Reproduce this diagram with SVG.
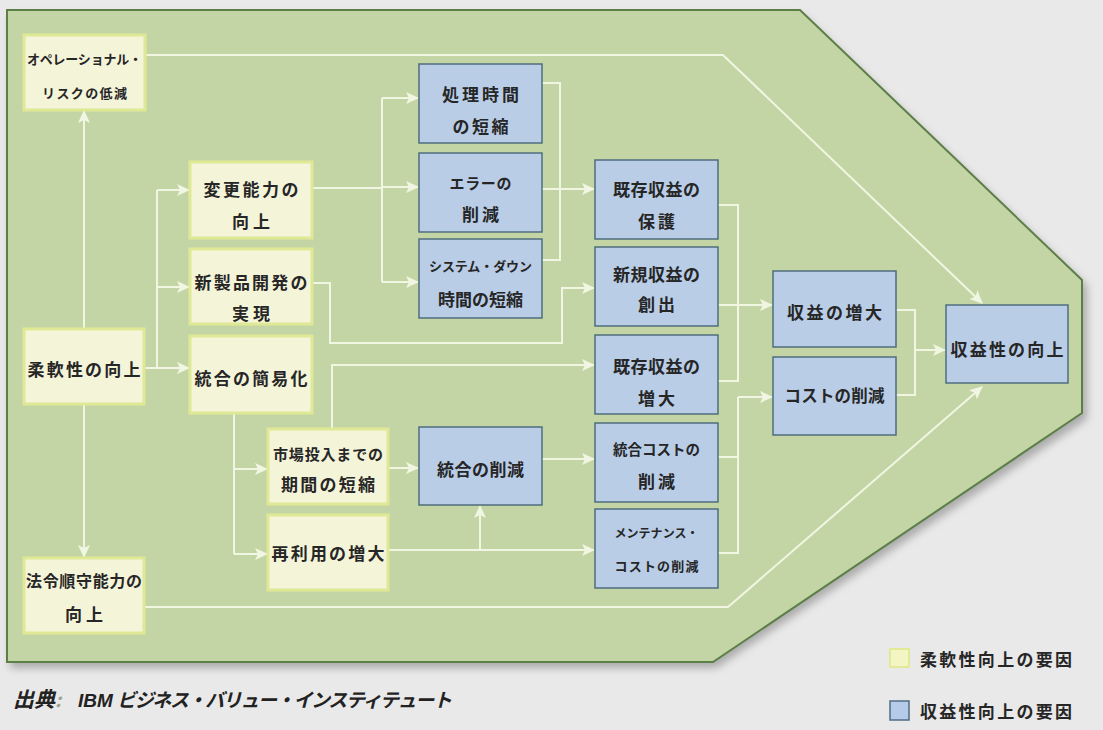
<svg xmlns="http://www.w3.org/2000/svg" width="1103" height="730" viewBox="0 0 1103 730">
<style>
.t{font-family:"Noto Sans CJK JP","Noto Sans CJK SC",sans-serif;font-size:17px;fill:#262626;text-anchor:middle;dominant-baseline:central;font-weight:700}
.s{font-size:13px}
.m{font-size:15px}
.y{fill:#f4f4d9;stroke:#dfe995;stroke-width:3}
.b{fill:#b9cde6;stroke:#4f6d7d;stroke-width:1.5}
.c{fill:none;stroke:#f1f6e2;stroke-width:2}
.ca{fill:none;stroke:#f1f6e2;stroke-width:2;marker-end:url(#ah)}
</style>
<defs>
<marker id="ah" markerUnits="userSpaceOnUse" markerWidth="14" markerHeight="12" refX="12" refY="6" orient="auto">
<path d="M0,0 L13,6 L0,12 L3,6 z" fill="#f1f6e2"/>
</marker>
<filter id="sh" x="-5%" y="-5%" width="110%" height="115%">
<feGaussianBlur stdDeviation="4"/>
</filter>
</defs>
<rect width="1103" height="730" fill="#e9e9e9"/>
<polygon points="10,16 803,16 1087,286 1087,419 716,668 10,668" fill="#777" opacity="0.55" filter="url(#sh)"/>
<polygon points="7,10 800,10 1082,280 1082,413 713,662 7,662" fill="#c4d5a5" stroke="#5c7f48" stroke-width="2"/>

<g id="connectors">
<path class="ca" d="M84,329 V111"/>
<path class="ca" d="M84,404 V557"/>
<path class="ca" d="M144,368 H189"/>
<path class="c" d="M157,368 V190"/>
<path class="ca" d="M157,190 H189"/>
<path class="ca" d="M157,287 H189"/>
<path class="c" d="M312,188 H382"/>
<path class="c" d="M382,98 V282"/>
<path class="ca" d="M382,98 H418"/>
<path class="ca" d="M382,187 H418"/>
<path class="ca" d="M382,282 H418"/>
<path class="c" d="M542,83 H560 V260 H542"/>
<path class="ca" d="M542,189 H594"/>
<path class="ca" d="M312,283 H330 V343 H562 V288 H594"/>
<path class="ca" d="M332,429 V365 H594"/>
<path class="c" d="M234,413 V554"/>
<path class="ca" d="M234,469 H267"/>
<path class="ca" d="M234,554 H267"/>
<path class="ca" d="M388,468 H418"/>
<path class="ca" d="M388,550 H594"/>
<path class="ca" d="M480,550 V506"/>
<path class="ca" d="M542,459 H594"/>
<path class="c" d="M718,205 H738 V381 H718"/>
<path class="ca" d="M718,305 H772"/>
<path class="c" d="M718,457 H738 M718,553 H738 V397"/>
<path class="ca" d="M738,397 H772"/>
<path class="c" d="M896,310 H915 V395 H896"/>
<path class="ca" d="M915,350 H945"/>
<path class="ca" d="M145,55 H723 L982,303"/>
<path class="ca" d="M144,607 H728 L982,387"/>
</g>

<g id="n-ops"><rect class="y" x="24" y="35" width="121" height="75"/>
<text class="t s" x="84.5" y="58" textLength="115">オペレーショナル・</text>
<text class="t s" x="84.5" y="92" textLength="85">リスクの低減</text></g>
<g id="n-henkou"><rect class="y" x="190" y="162" width="122" height="76"/>
<text class="t" x="251" y="188" textLength="95">変更能力の</text>
<text class="t" x="251" y="220" textLength="38">向上</text></g>
<g id="n-shinseihin"><rect class="y" x="190" y="249" width="122" height="75"/>
<text class="t" x="251" y="281" textLength="113">新製品開発の</text>
<text class="t" x="251" y="312" textLength="38">実現</text></g>
<g id="n-kanika"><rect class="y" x="190" y="336" width="122" height="77"/>
<text class="t" x="251" y="377" textLength="113">統合の簡易化</text></g>
<g id="n-juunan"><rect class="y" x="24" y="329" width="120" height="75"/>
<text class="t" x="84" y="368" textLength="113">柔軟性の向上</text></g>
<g id="n-shijou"><rect class="y" x="268" y="429" width="120" height="75"/>
<text class="t m" x="328" y="453" textLength="110">市場投入までの</text>
<text class="t" x="328" y="483" textLength="94">期間の短縮</text></g>
<g id="n-sairiyou"><rect class="y" x="268" y="515" width="120" height="75"/>
<text class="t" x="328" y="552" textLength="113">再利用の増大</text></g>
<g id="n-hourei"><rect class="y" x="24" y="558" width="120" height="75"/>
<text class="t" x="84" y="580" textLength="116" style="font-size:16px">法令順守能力の</text>
<text class="t" x="84" y="613" textLength="38">向上</text></g>

<g id="n-shori"><rect class="b" x="419" y="64" width="123" height="79"/>
<text class="t" x="480.5" y="93" textLength="77">処理時間</text>
<text class="t" x="480.5" y="125" textLength="56">の短縮</text></g>
<g id="n-error"><rect class="b" x="419" y="153" width="123" height="79"/>
<text class="t m" x="480.5" y="182" textLength="62">エラーの</text>
<text class="t" x="480.5" y="213" textLength="37">削減</text></g>
<g id="n-system"><rect class="b" x="419" y="239" width="123" height="79"/>
<text class="t s" x="480.5" y="265" textLength="103">システム・ダウン</text>
<text class="t" x="480.5" y="298" textLength="85">時間の短縮</text></g>
<g id="n-hogo"><rect class="b" x="595" y="160" width="123" height="79"/>
<text class="t" x="656.5" y="188" textLength="87">既存収益の</text>
<text class="t" x="656.5" y="220" textLength="37">保護</text></g>
<g id="n-shinki"><rect class="b" x="595" y="247" width="123" height="79"/>
<text class="t" x="656.5" y="273" textLength="87">新規収益の</text>
<text class="t" x="656.5" y="303" textLength="37">創出</text></g>
<g id="n-kizon-zoudai"><rect class="b" x="595" y="335" width="123" height="79"/>
<text class="t" x="656.5" y="365" textLength="87">既存収益の</text>
<text class="t" x="656.5" y="397" textLength="37">増大</text></g>
<g id="n-tougou-cost"><rect class="b" x="595" y="423" width="123" height="79"/>
<text class="t" x="656.5" y="448" textLength="87" style="font-size:14.5px">統合コストの</text>
<text class="t" x="656.5" y="480" textLength="37">削減</text></g>
<g id="n-tougou-sakugen"><rect class="b" x="419" y="427" width="123" height="78"/>
<text class="t" x="480.5" y="468" textLength="87">統合の削減</text></g>
<g id="n-maintenance"><rect class="b" x="595" y="509" width="123" height="79"/>
<text class="t" x="656.5" y="532" textLength="84" style="font-size:12px">メンテナンス・</text>
<text class="t s" x="656.5" y="565" textLength="84">コストの削減</text></g>
<g id="n-shueki-zoudai"><rect class="b" x="773" y="271" width="123" height="76"/>
<text class="t" x="834.5" y="311" textLength="95">収益の増大</text></g>
<g id="n-cost-sakugen"><rect class="b" x="773" y="357" width="123" height="78"/>
<text class="t" x="834.5" y="395" textLength="100" style="font-size:16.5px">コストの削減</text></g>
<g id="n-shuekisei"><rect class="b" x="946" y="305" width="122" height="78"/>
<text class="t" x="1007" y="348" textLength="113">収益性の向上</text></g>

<g id="legend">
<rect x="890" y="649" width="19" height="18" fill="#f3f6c2" stroke="#e2ea98" stroke-width="2"/>
<text class="t" x="996" y="658" textLength="152">柔軟性向上の要因</text>
<rect x="890" y="701" width="19" height="19" fill="#b5cbe8" stroke="#4f6d87" stroke-width="1.5"/>
<text class="t" x="996" y="710" textLength="152">収益性向上の要因</text>
</g>
<text x="13" y="707" font-family="'Noto Sans CJK JP',sans-serif" font-size="19" font-style="italic" font-weight="700" fill="#222"><tspan font-size="21">出典</tspan><tspan fill="#9aa492">:</tspan><tspan x="78" font-family="'Liberation Sans',sans-serif">IBM</tspan><tspan x="117" textLength="335">ビジネス・バリュー・インスティテュート</tspan></text>
</svg>
